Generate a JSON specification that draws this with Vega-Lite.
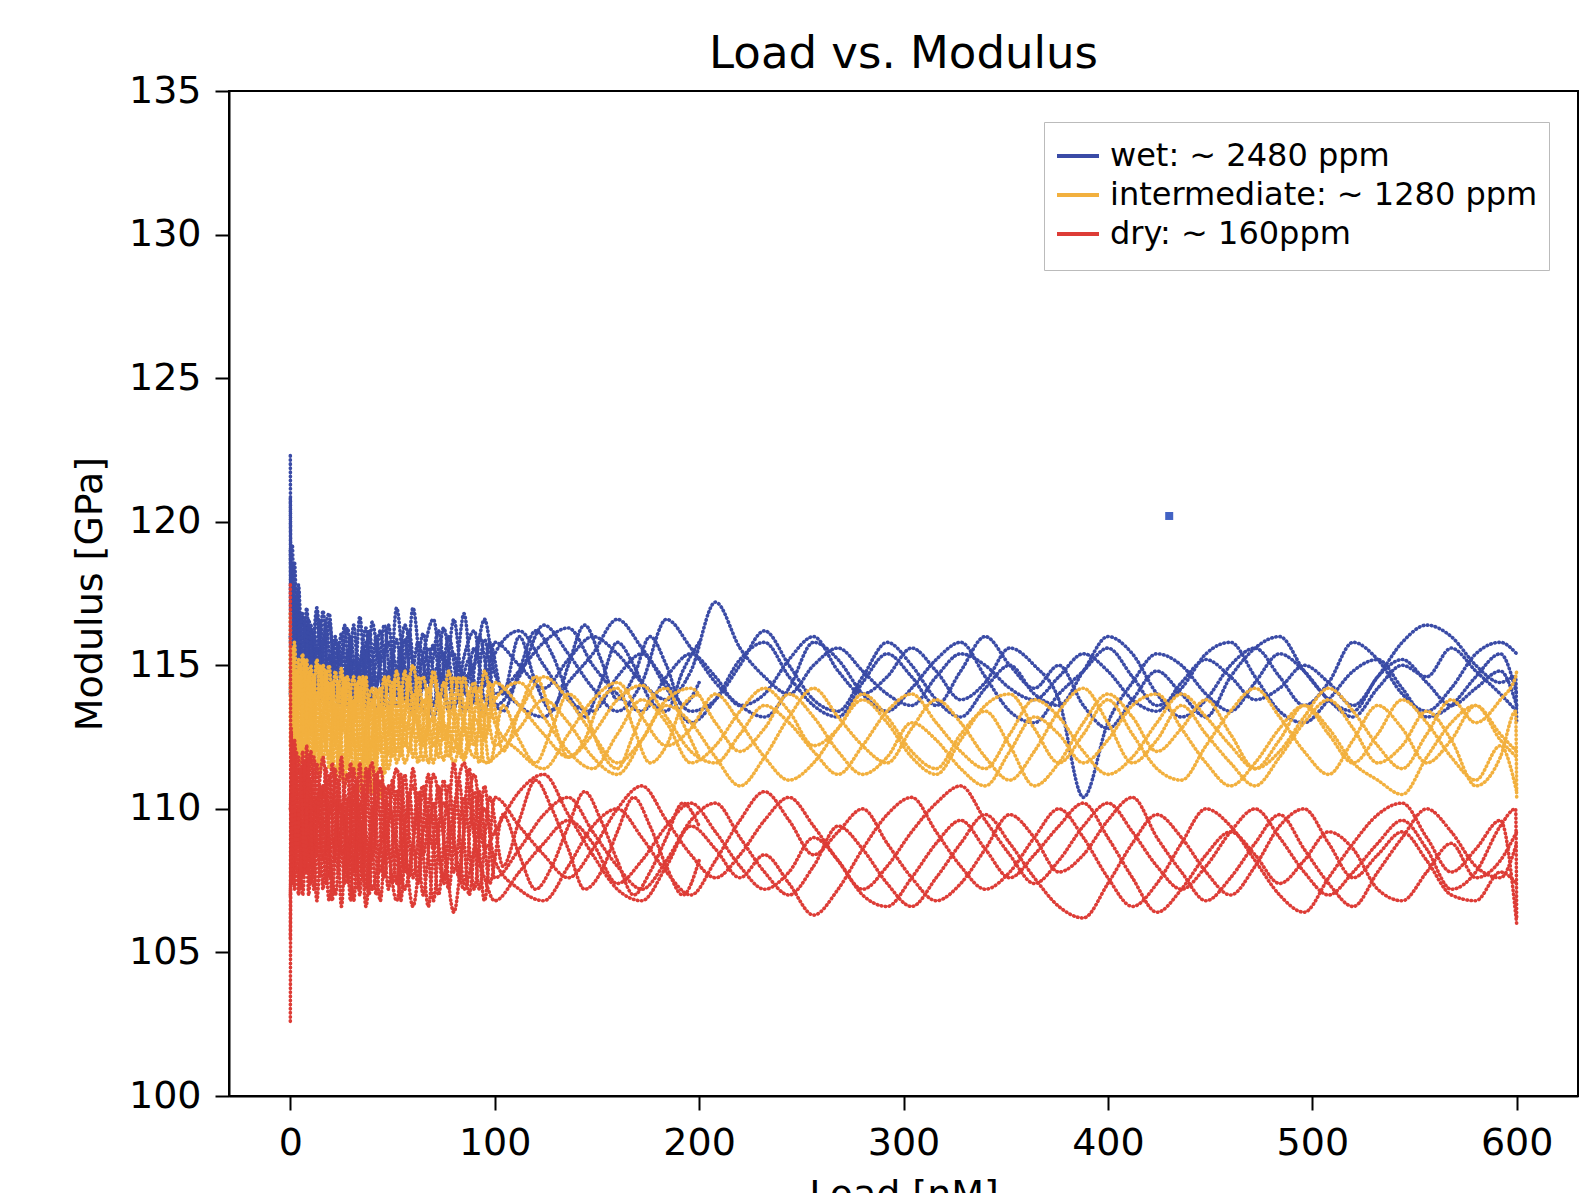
{
"$schema":"https://vega.github.io/schema/vega-lite/v6.json",
"autosize":{"type":"none"},
"width":1349,"height":1005,
"padding":{"left":229,"top":91,"right":4,"bottom":97},
"background":"white",
"config":{"view":{"stroke":"black","strokeWidth":2},"font":"DejaVu Sans"},
"title":{"text":"Load vs. Modulus","fontSize":45,"font":"DejaVu Sans","fontWeight":"normal","color":"black","anchor":"middle","frame":"group","baseline":"alphabetic","offset":22,"dy":63},
"layer":[
{"data":{"values":[
{"s":"w1","x":0,"y":122.3},{"s":"w1","x":0.4,"y":116.5},{"s":"w1","x":1,"y":119.2},{"s":"w1","x":2,"y":115.6},{"s":"w1","x":4,"y":117.8},{"s":"w1","x":6,"y":114.6},{"s":"w1","x":8,"y":117.0},{"s":"w1","x":10,"y":114.4},{"s":"w1","x":13,"y":116.8},{"s":"w1","x":16,"y":114.2},{"s":"w1","x":19,"y":116.5},{"s":"w1","x":22,"y":114.6},{"s":"w1","x":25,"y":116.1},{"s":"w1","x":28,"y":114.0},{"s":"w1","x":31,"y":116.4},{"s":"w1","x":34,"y":113.9},{"s":"w1","x":37,"y":115.8},{"s":"w1","x":40,"y":114.3},{"s":"w1","x":44,"y":116.2},{"s":"w1","x":48,"y":114.1},{"s":"w1","x":52,"y":115.9},{"s":"w1","x":56,"y":113.8},{"s":"w1","x":60,"y":117.0},{"s":"w1","x":65,"y":114.2},{"s":"w1","x":70,"y":115.7},{"s":"w1","x":75,"y":113.9},{"s":"w1","x":80,"y":116.6},{"s":"w1","x":85,"y":114.0},{"s":"w1","x":90,"y":115.6},{"s":"w1","x":95,"y":114.3},
{"s":"w1","x":100,"y":115.8},{"s":"w1","x":112,"y":115.0},{"s":"w1","x":124,"y":114.2},{"s":"w1","x":136,"y":115.2},{"s":"w1","x":148,"y":116.0},{"s":"w1","x":160,"y":115.4},{"s":"w1","x":172,"y":114.4},{"s":"w1","x":184,"y":113.8},{"s":"w1","x":196,"y":114.8},{"s":"w1","x":208,"y":117.2},{"s":"w1","x":220,"y":115.6},{"s":"w1","x":232,"y":114.6},{"s":"w1","x":244,"y":114.0},{"s":"w1","x":256,"y":115.0},{"s":"w1","x":268,"y":115.6},{"s":"w1","x":280,"y":114.8},{"s":"w1","x":292,"y":114.0},{"s":"w1","x":304,"y":113.6},{"s":"w1","x":316,"y":114.6},{"s":"w1","x":328,"y":115.4},{"s":"w1","x":340,"y":115.0},{"s":"w1","x":352,"y":114.2},{"s":"w1","x":364,"y":113.8},{"s":"w1","x":376,"y":114.6},{"s":"w1","x":388,"y":115.4},{"s":"w1","x":400,"y":114.8},{"s":"w1","x":412,"y":113.8},{"s":"w1","x":424,"y":113.4},{"s":"w1","x":436,"y":114.4},{"s":"w1","x":448,"y":115.2},{"s":"w1","x":460,"y":114.6},{"s":"w1","x":472,"y":113.8},{"s":"w1","x":484,"y":114.2},{"s":"w1","x":496,"y":115.0},{"s":"w1","x":508,"y":114.4},{"s":"w1","x":520,"y":113.6},{"s":"w1","x":532,"y":114.6},{"s":"w1","x":544,"y":115.8},{"s":"w1","x":556,"y":116.4},{"s":"w1","x":568,"y":116.0},{"s":"w1","x":580,"y":115.0},{"s":"w1","x":592,"y":114.4},{"s":"w1","x":599.5,"y":114.6},{"s":"w1","x":600,"y":113.0},
{"s":"w2","x":0,"y":120.8},{"s":"w2","x":0.4,"y":114.8},{"s":"w2","x":1,"y":117.0},{"s":"w2","x":2,"y":118.6},{"s":"w2","x":4,"y":114.6},{"s":"w2","x":6,"y":116.8},{"s":"w2","x":8,"y":114.2},{"s":"w2","x":10,"y":116.4},{"s":"w2","x":13,"y":113.9},{"s":"w2","x":16,"y":116.9},{"s":"w2","x":19,"y":114.0},{"s":"w2","x":22,"y":116.0},{"s":"w2","x":25,"y":113.8},{"s":"w2","x":28,"y":115.5},{"s":"w2","x":31,"y":113.7},{"s":"w2","x":34,"y":116.7},{"s":"w2","x":37,"y":114.1},{"s":"w2","x":40,"y":115.2},{"s":"w2","x":44,"y":113.6},{"s":"w2","x":48,"y":116.4},{"s":"w2","x":52,"y":113.9},{"s":"w2","x":56,"y":115.9},{"s":"w2","x":60,"y":114.0},{"s":"w2","x":65,"y":116.1},{"s":"w2","x":70,"y":113.6},{"s":"w2","x":75,"y":116.3},{"s":"w2","x":80,"y":114.4},{"s":"w2","x":85,"y":116.8},{"s":"w2","x":90,"y":113.7},{"s":"w2","x":95,"y":115.9},
{"s":"w2","x":100,"y":114.0},{"s":"w2","x":112,"y":114.8},{"s":"w2","x":124,"y":115.8},{"s":"w2","x":136,"y":116.3},{"s":"w2","x":148,"y":115.0},{"s":"w2","x":160,"y":114.0},{"s":"w2","x":172,"y":113.4},{"s":"w2","x":184,"y":114.6},{"s":"w2","x":196,"y":115.4},{"s":"w2","x":208,"y":114.6},{"s":"w2","x":220,"y":113.6},{"s":"w2","x":232,"y":114.0},{"s":"w2","x":244,"y":115.2},{"s":"w2","x":256,"y":116.0},{"s":"w2","x":268,"y":114.8},{"s":"w2","x":280,"y":114.0},{"s":"w2","x":292,"y":114.6},{"s":"w2","x":304,"y":115.6},{"s":"w2","x":316,"y":114.8},{"s":"w2","x":328,"y":113.8},{"s":"w2","x":340,"y":114.4},{"s":"w2","x":352,"y":115.6},{"s":"w2","x":364,"y":115.0},{"s":"w2","x":376,"y":113.8},{"s":"w2","x":388,"y":110.4},{"s":"w2","x":400,"y":113.0},{"s":"w2","x":412,"y":114.4},{"s":"w2","x":424,"y":115.4},{"s":"w2","x":436,"y":115.0},{"s":"w2","x":448,"y":114.0},{"s":"w2","x":460,"y":113.4},{"s":"w2","x":472,"y":114.4},{"s":"w2","x":484,"y":115.4},{"s":"w2","x":496,"y":114.8},{"s":"w2","x":508,"y":113.8},{"s":"w2","x":520,"y":113.4},{"s":"w2","x":532,"y":114.6},{"s":"w2","x":544,"y":115.2},{"s":"w2","x":556,"y":114.4},{"s":"w2","x":568,"y":113.6},{"s":"w2","x":580,"y":114.2},{"s":"w2","x":592,"y":114.8},{"s":"w2","x":600,"y":113.6},
{"s":"w3","x":0,"y":119.0},{"s":"w3","x":0.4,"y":113.4},{"s":"w3","x":1,"y":115.0},{"s":"w3","x":2,"y":116.4},{"s":"w3","x":4,"y":117.6},{"s":"w3","x":6,"y":114.0},{"s":"w3","x":8,"y":116.0},{"s":"w3","x":10,"y":113.8},{"s":"w3","x":13,"y":115.6},{"s":"w3","x":16,"y":114.4},{"s":"w3","x":19,"y":113.8},{"s":"w3","x":22,"y":115.8},{"s":"w3","x":25,"y":114.8},{"s":"w3","x":28,"y":113.6},{"s":"w3","x":31,"y":115.2},{"s":"w3","x":34,"y":114.6},{"s":"w3","x":37,"y":113.5},{"s":"w3","x":40,"y":116.5},{"s":"w3","x":44,"y":114.6},{"s":"w3","x":48,"y":113.5},{"s":"w3","x":52,"y":117.0},{"s":"w3","x":56,"y":114.4},{"s":"w3","x":60,"y":113.6},{"s":"w3","x":65,"y":115.4},{"s":"w3","x":70,"y":116.6},{"s":"w3","x":75,"y":114.0},{"s":"w3","x":80,"y":113.5},{"s":"w3","x":85,"y":115.3},{"s":"w3","x":90,"y":116.2},{"s":"w3","x":95,"y":113.8},
{"s":"w3","x":100,"y":113.6},{"s":"w3","x":112,"y":114.6},{"s":"w3","x":124,"y":116.4},{"s":"w3","x":136,"y":115.4},{"s":"w3","x":148,"y":114.2},{"s":"w3","x":160,"y":113.4},{"s":"w3","x":172,"y":114.4},{"s":"w3","x":184,"y":116.6},{"s":"w3","x":196,"y":115.6},{"s":"w3","x":208,"y":114.4},{"s":"w3","x":220,"y":113.6},{"s":"w3","x":232,"y":113.2},{"s":"w3","x":244,"y":114.2},{"s":"w3","x":256,"y":115.8},{"s":"w3","x":268,"y":115.2},{"s":"w3","x":280,"y":114.0},{"s":"w3","x":292,"y":113.4},{"s":"w3","x":304,"y":114.2},{"s":"w3","x":316,"y":115.2},{"s":"w3","x":328,"y":115.8},{"s":"w3","x":340,"y":114.6},{"s":"w3","x":352,"y":113.4},{"s":"w3","x":364,"y":113.0},{"s":"w3","x":376,"y":114.0},{"s":"w3","x":388,"y":114.8},{"s":"w3","x":400,"y":115.6},{"s":"w3","x":412,"y":114.6},{"s":"w3","x":424,"y":113.6},{"s":"w3","x":436,"y":114.2},{"s":"w3","x":448,"y":115.4},{"s":"w3","x":460,"y":115.8},{"s":"w3","x":472,"y":114.6},{"s":"w3","x":484,"y":113.4},{"s":"w3","x":496,"y":113.0},{"s":"w3","x":508,"y":113.8},{"s":"w3","x":520,"y":114.8},{"s":"w3","x":532,"y":115.2},{"s":"w3","x":544,"y":114.2},{"s":"w3","x":556,"y":113.2},{"s":"w3","x":568,"y":113.6},{"s":"w3","x":580,"y":114.6},{"s":"w3","x":592,"y":115.4},{"s":"w3","x":600,"y":114.0},
{"s":"w4","x":0,"y":116.0},{"s":"w4","x":1,"y":114.3},{"s":"w4","x":2,"y":116.8},{"s":"w4","x":4,"y":115.0},{"s":"w4","x":6,"y":113.9},{"s":"w4","x":8,"y":115.6},{"s":"w4","x":10,"y":114.8},{"s":"w4","x":13,"y":117.0},{"s":"w4","x":16,"y":113.9},{"s":"w4","x":19,"y":115.3},{"s":"w4","x":22,"y":113.8},{"s":"w4","x":25,"y":115.0},{"s":"w4","x":28,"y":116.3},{"s":"w4","x":31,"y":114.0},{"s":"w4","x":34,"y":115.0},{"s":"w4","x":37,"y":116.3},{"s":"w4","x":40,"y":113.6},{"s":"w4","x":44,"y":115.0},{"s":"w4","x":48,"y":115.8},{"s":"w4","x":52,"y":114.3},{"s":"w4","x":56,"y":116.4},{"s":"w4","x":60,"y":115.0},{"s":"w4","x":65,"y":113.5},{"s":"w4","x":70,"y":114.6},{"s":"w4","x":75,"y":115.4},{"s":"w4","x":80,"y":113.6},{"s":"w4","x":85,"y":114.5},{"s":"w4","x":90,"y":115.0},{"s":"w4","x":95,"y":116.6},
{"s":"w4","x":100,"y":114.7},{"s":"w4","x":112,"y":113.6},{"s":"w4","x":124,"y":113.2},{"s":"w4","x":136,"y":114.4},{"s":"w4","x":148,"y":115.4},{"s":"w4","x":160,"y":116.6},{"s":"w4","x":172,"y":115.6},{"s":"w4","x":184,"y":114.4},{"s":"w4","x":196,"y":113.4},{"s":"w4","x":208,"y":113.8},{"s":"w4","x":220,"y":115.0},{"s":"w4","x":232,"y":116.2},{"s":"w4","x":244,"y":115.0},{"s":"w4","x":256,"y":113.8},{"s":"w4","x":268,"y":113.4},{"s":"w4","x":280,"y":114.6},{"s":"w4","x":292,"y":115.8},{"s":"w4","x":304,"y":115.0},{"s":"w4","x":316,"y":113.8},{"s":"w4","x":328,"y":113.2},{"s":"w4","x":340,"y":114.2},{"s":"w4","x":352,"y":115.0},{"s":"w4","x":364,"y":114.0},{"s":"w4","x":376,"y":113.6},{"s":"w4","x":388,"y":114.8},{"s":"w4","x":400,"y":116.0},{"s":"w4","x":412,"y":115.4},{"s":"w4","x":424,"y":114.0},{"s":"w4","x":436,"y":113.2},{"s":"w4","x":448,"y":113.8},{"s":"w4","x":460,"y":115.0},{"s":"w4","x":472,"y":115.6},{"s":"w4","x":484,"y":114.6},{"s":"w4","x":496,"y":113.6},{"s":"w4","x":508,"y":114.4},{"s":"w4","x":520,"y":115.8},{"s":"w4","x":532,"y":115.2},{"s":"w4","x":544,"y":114.0},{"s":"w4","x":556,"y":113.4},{"s":"w4","x":568,"y":114.2},{"s":"w4","x":580,"y":115.4},{"s":"w4","x":592,"y":115.8},{"s":"w4","x":600,"y":115.4},
{"s":"w5","x":0,"y":114.0},{"s":"w5","x":1,"y":116.2},{"s":"w5","x":2,"y":114.1},{"s":"w5","x":4,"y":116.0},{"s":"w5","x":6,"y":115.2},{"s":"w5","x":8,"y":113.8},{"s":"w5","x":10,"y":115.4},{"s":"w5","x":13,"y":114.2},{"s":"w5","x":16,"y":115.8},{"s":"w5","x":19,"y":116.8},{"s":"w5","x":22,"y":114.0},{"s":"w5","x":25,"y":113.6},{"s":"w5","x":28,"y":115.0},{"s":"w5","x":31,"y":113.4},{"s":"w5","x":34,"y":114.4},{"s":"w5","x":37,"y":115.5},{"s":"w5","x":40,"y":113.9},{"s":"w5","x":44,"y":113.4},{"s":"w5","x":48,"y":114.8},{"s":"w5","x":52,"y":113.6},{"s":"w5","x":56,"y":114.9},{"s":"w5","x":60,"y":113.3},{"s":"w5","x":65,"y":114.4},{"s":"w5","x":70,"y":113.2},{"s":"w5","x":75,"y":114.8},{"s":"w5","x":80,"y":115.4},{"s":"w5","x":85,"y":113.4},{"s":"w5","x":90,"y":114.0},{"s":"w5","x":95,"y":113.3},
{"s":"w5","x":100,"y":115.4},{"s":"w5","x":112,"y":116.2},{"s":"w5","x":124,"y":115.0},{"s":"w5","x":136,"y":113.8},{"s":"w5","x":148,"y":113.4},{"s":"w5","x":160,"y":114.6},{"s":"w5","x":172,"y":115.4},{"s":"w5","x":184,"y":114.2},{"s":"w5","x":196,"y":113.0},{"s":"w5","x":208,"y":113.8},{"s":"w5","x":220,"y":115.2},{"s":"w5","x":232,"y":115.8},{"s":"w5","x":244,"y":114.6},{"s":"w5","x":256,"y":113.6},{"s":"w5","x":268,"y":113.2},{"s":"w5","x":280,"y":114.4},{"s":"w5","x":292,"y":115.4},{"s":"w5","x":304,"y":114.6},{"s":"w5","x":316,"y":113.6},{"s":"w5","x":328,"y":114.8},{"s":"w5","x":340,"y":116.0},{"s":"w5","x":352,"y":115.0},{"s":"w5","x":364,"y":114.2},{"s":"w5","x":376,"y":115.0},{"s":"w5","x":388,"y":113.6},{"s":"w5","x":400,"y":112.8},{"s":"w5","x":412,"y":113.8},{"s":"w5","x":424,"y":114.8},{"s":"w5","x":436,"y":114.0},{"s":"w5","x":448,"y":113.2},{"s":"w5","x":460,"y":114.6},{"s":"w5","x":472,"y":115.6},{"s":"w5","x":484,"y":116.0},{"s":"w5","x":496,"y":114.8},{"s":"w5","x":508,"y":113.8},{"s":"w5","x":520,"y":113.2},{"s":"w5","x":532,"y":114.2},{"s":"w5","x":544,"y":115.0},{"s":"w5","x":556,"y":114.6},{"s":"w5","x":568,"y":115.6},{"s":"w5","x":580,"y":114.8},{"s":"w5","x":592,"y":114.0},{"s":"w5","x":600,"y":113.4},
{"s":"w6","x":0.5,"y":118.0},{"s":"w6","x":1.5,"y":114.6},{"s":"w6","x":3,"y":117.4},{"s":"w6","x":5,"y":114.2},{"s":"w6","x":7,"y":116.6},{"s":"w6","x":9,"y":114.0},{"s":"w6","x":11.5,"y":116.2},{"s":"w6","x":14.5,"y":113.8},{"s":"w6","x":17.5,"y":116.4},{"s":"w6","x":20.5,"y":114.4},{"s":"w6","x":23.5,"y":115.8},{"s":"w6","x":26.5,"y":113.6},{"s":"w6","x":29.5,"y":116.0},{"s":"w6","x":32.5,"y":114.2},{"s":"w6","x":35.5,"y":115.6},{"s":"w6","x":38.5,"y":113.6},{"s":"w6","x":42,"y":116.0},{"s":"w6","x":46,"y":113.8},{"s":"w6","x":50,"y":115.4},{"s":"w6","x":54,"y":114.0},{"s":"w6","x":58,"y":116.2},{"s":"w6","x":62.5,"y":113.6},{"s":"w6","x":67.5,"y":115.6},{"s":"w6","x":72.5,"y":113.8},{"s":"w6","x":77.5,"y":116.0},{"s":"w6","x":82.5,"y":114.2},{"s":"w6","x":87.5,"y":115.2},{"s":"w6","x":92.5,"y":113.6},{"s":"w6","x":97.5,"y":115.8},{"s":"w6","x":104,"y":114.0},{"s":"w6","x":112,"y":116.0},{"s":"w6","x":120,"y":114.4},{"s":"w6","x":128,"y":113.4},{"s":"w6","x":136,"y":115.0},{"s":"w6","x":144,"y":116.4},{"s":"w6","x":152,"y":115.2},{"s":"w6","x":160,"y":113.8},{"s":"w6","x":168,"y":114.6},{"s":"w6","x":176,"y":116.0},{"s":"w6","x":184,"y":115.0},{"s":"w6","x":192,"y":113.6},{"s":"w6","x":200,"y":114.4},
{"s":"w7","x":0.5,"y":115.0},{"s":"w7","x":1.5,"y":118.0},{"s":"w7","x":3,"y":114.4},{"s":"w7","x":5,"y":116.8},{"s":"w7","x":7,"y":113.9},{"s":"w7","x":9,"y":116.6},{"s":"w7","x":11.5,"y":114.4},{"s":"w7","x":14.5,"y":116.6},{"s":"w7","x":17.5,"y":114.0},{"s":"w7","x":20.5,"y":115.6},{"s":"w7","x":23.5,"y":113.6},{"s":"w7","x":26.5,"y":116.4},{"s":"w7","x":29.5,"y":114.0},{"s":"w7","x":32.5,"y":115.4},{"s":"w7","x":35.5,"y":113.6},{"s":"w7","x":38.5,"y":116.2},{"s":"w7","x":42,"y":114.2},{"s":"w7","x":46,"y":116.4},{"s":"w7","x":50,"y":113.6},{"s":"w7","x":54,"y":115.6},{"s":"w7","x":58,"y":113.8},{"s":"w7","x":62.5,"y":115.8},{"s":"w7","x":67.5,"y":114.4},{"s":"w7","x":72.5,"y":116.2},{"s":"w7","x":77.5,"y":113.4},{"s":"w7","x":82.5,"y":115.0},{"s":"w7","x":87.5,"y":113.8},{"s":"w7","x":92.5,"y":116.0},{"s":"w7","x":97.5,"y":114.2},{"s":"w7","x":104,"y":113.4},{"s":"w7","x":112,"y":114.8},{"s":"w7","x":120,"y":116.2},{"s":"w7","x":128,"y":115.4},{"s":"w7","x":136,"y":114.0},{"s":"w7","x":144,"y":113.2},{"s":"w7","x":152,"y":114.4},{"s":"w7","x":160,"y":115.8},{"s":"w7","x":168,"y":115.0},{"s":"w7","x":176,"y":113.8},{"s":"w7","x":184,"y":113.4},{"s":"w7","x":192,"y":114.8},{"s":"w7","x":200,"y":115.8},
{"s":"i1","x":0,"y":116.8},{"s":"i1","x":0.4,"y":112.0},{"s":"i1","x":1,"y":115.6},{"s":"i1","x":2,"y":112.4},{"s":"i1","x":4,"y":115.2},{"s":"i1","x":6,"y":111.8},{"s":"i1","x":8,"y":114.6},{"s":"i1","x":10,"y":112.6},{"s":"i1","x":13,"y":115.2},{"s":"i1","x":16,"y":111.6},{"s":"i1","x":19,"y":114.4},{"s":"i1","x":22,"y":112.2},{"s":"i1","x":25,"y":114.9},{"s":"i1","x":28,"y":111.4},{"s":"i1","x":31,"y":113.8},{"s":"i1","x":34,"y":112.0},{"s":"i1","x":37,"y":114.6},{"s":"i1","x":40,"y":110.6},{"s":"i1","x":44,"y":113.6},{"s":"i1","x":48,"y":111.9},{"s":"i1","x":52,"y":114.5},{"s":"i1","x":56,"y":112.2},{"s":"i1","x":60,"y":114.0},{"s":"i1","x":65,"y":111.7},{"s":"i1","x":70,"y":114.6},{"s":"i1","x":75,"y":112.4},{"s":"i1","x":80,"y":113.5},{"s":"i1","x":85,"y":111.8},{"s":"i1","x":90,"y":114.2},{"s":"i1","x":95,"y":112.5},
{"s":"i1","x":100,"y":114.4},{"s":"i1","x":112,"y":113.6},{"s":"i1","x":124,"y":112.6},{"s":"i1","x":136,"y":111.8},{"s":"i1","x":148,"y":112.6},{"s":"i1","x":160,"y":113.8},{"s":"i1","x":172,"y":114.3},{"s":"i1","x":184,"y":113.2},{"s":"i1","x":196,"y":112.0},{"s":"i1","x":208,"y":111.6},{"s":"i1","x":220,"y":112.6},{"s":"i1","x":232,"y":113.6},{"s":"i1","x":244,"y":113.0},{"s":"i1","x":256,"y":112.0},{"s":"i1","x":268,"y":111.2},{"s":"i1","x":280,"y":112.2},{"s":"i1","x":292,"y":113.4},{"s":"i1","x":304,"y":114.0},{"s":"i1","x":316,"y":113.0},{"s":"i1","x":328,"y":112.0},{"s":"i1","x":340,"y":111.4},{"s":"i1","x":352,"y":112.6},{"s":"i1","x":364,"y":113.8},{"s":"i1","x":376,"y":113.2},{"s":"i1","x":388,"y":112.0},{"s":"i1","x":400,"y":111.2},{"s":"i1","x":412,"y":111.8},{"s":"i1","x":424,"y":113.0},{"s":"i1","x":436,"y":114.0},{"s":"i1","x":448,"y":113.2},{"s":"i1","x":460,"y":112.2},{"s":"i1","x":472,"y":111.4},{"s":"i1","x":484,"y":112.4},{"s":"i1","x":496,"y":113.6},{"s":"i1","x":508,"y":112.8},{"s":"i1","x":520,"y":111.6},{"s":"i1","x":532,"y":111.0},{"s":"i1","x":544,"y":110.5},{"s":"i1","x":556,"y":111.8},{"s":"i1","x":568,"y":113.0},{"s":"i1","x":580,"y":113.6},{"s":"i1","x":592,"y":112.6},{"s":"i1","x":600,"y":112.0},
{"s":"i2","x":0,"y":115.5},{"s":"i2","x":0.4,"y":111.5},{"s":"i2","x":1,"y":113.0},{"s":"i2","x":2,"y":115.8},{"s":"i2","x":4,"y":112.0},{"s":"i2","x":6,"y":114.8},{"s":"i2","x":8,"y":111.6},{"s":"i2","x":10,"y":115.0},{"s":"i2","x":13,"y":112.0},{"s":"i2","x":16,"y":114.6},{"s":"i2","x":19,"y":111.4},{"s":"i2","x":22,"y":114.8},{"s":"i2","x":25,"y":112.6},{"s":"i2","x":28,"y":114.4},{"s":"i2","x":31,"y":111.2},{"s":"i2","x":34,"y":114.2},{"s":"i2","x":37,"y":111.6},{"s":"i2","x":40,"y":113.8},{"s":"i2","x":44,"y":110.4},{"s":"i2","x":48,"y":113.6},{"s":"i2","x":52,"y":112.0},{"s":"i2","x":56,"y":114.8},{"s":"i2","x":60,"y":111.8},{"s":"i2","x":65,"y":113.8},{"s":"i2","x":70,"y":111.6},{"s":"i2","x":75,"y":114.4},{"s":"i2","x":80,"y":112.0},{"s":"i2","x":85,"y":114.6},{"s":"i2","x":90,"y":112.2},{"s":"i2","x":95,"y":113.6},
{"s":"i2","x":100,"y":112.2},{"s":"i2","x":112,"y":113.4},{"s":"i2","x":124,"y":114.6},{"s":"i2","x":136,"y":113.8},{"s":"i2","x":148,"y":112.6},{"s":"i2","x":160,"y":111.6},{"s":"i2","x":172,"y":112.4},{"s":"i2","x":184,"y":113.6},{"s":"i2","x":196,"y":113.0},{"s":"i2","x":208,"y":111.8},{"s":"i2","x":220,"y":110.8},{"s":"i2","x":232,"y":111.8},{"s":"i2","x":244,"y":113.2},{"s":"i2","x":256,"y":114.2},{"s":"i2","x":268,"y":113.2},{"s":"i2","x":280,"y":112.2},{"s":"i2","x":292,"y":111.6},{"s":"i2","x":304,"y":112.8},{"s":"i2","x":316,"y":113.8},{"s":"i2","x":328,"y":113.0},{"s":"i2","x":340,"y":111.8},{"s":"i2","x":352,"y":111.0},{"s":"i2","x":364,"y":112.0},{"s":"i2","x":376,"y":113.4},{"s":"i2","x":388,"y":114.2},{"s":"i2","x":400,"y":113.0},{"s":"i2","x":412,"y":111.6},{"s":"i2","x":424,"y":112.4},{"s":"i2","x":436,"y":113.6},{"s":"i2","x":448,"y":112.6},{"s":"i2","x":460,"y":111.6},{"s":"i2","x":472,"y":110.8},{"s":"i2","x":484,"y":111.8},{"s":"i2","x":496,"y":113.0},{"s":"i2","x":508,"y":113.8},{"s":"i2","x":520,"y":112.8},{"s":"i2","x":532,"y":111.6},{"s":"i2","x":544,"y":112.2},{"s":"i2","x":556,"y":113.4},{"s":"i2","x":568,"y":112.4},{"s":"i2","x":580,"y":110.8},{"s":"i2","x":592,"y":111.8},{"s":"i2","x":599.5,"y":113.4},{"s":"i2","x":600,"y":110.4},
{"s":"i3","x":0,"y":113.2},{"s":"i3","x":1,"y":114.8},{"s":"i3","x":2,"y":112.8},{"s":"i3","x":4,"y":113.6},{"s":"i3","x":6,"y":115.4},{"s":"i3","x":8,"y":112.6},{"s":"i3","x":10,"y":113.4},{"s":"i3","x":13,"y":111.4},{"s":"i3","x":16,"y":113.2},{"s":"i3","x":19,"y":115.0},{"s":"i3","x":22,"y":111.0},{"s":"i3","x":25,"y":113.4},{"s":"i3","x":28,"y":114.6},{"s":"i3","x":31,"y":112.6},{"s":"i3","x":34,"y":110.6},{"s":"i3","x":37,"y":113.0},{"s":"i3","x":40,"y":114.2},{"s":"i3","x":44,"y":112.0},{"s":"i3","x":48,"y":114.6},{"s":"i3","x":52,"y":111.6},{"s":"i3","x":56,"y":113.2},{"s":"i3","x":60,"y":115.0},{"s":"i3","x":65,"y":112.4},{"s":"i3","x":70,"y":113.2},{"s":"i3","x":75,"y":111.7},{"s":"i3","x":80,"y":114.6},{"s":"i3","x":85,"y":112.8},{"s":"i3","x":90,"y":111.8},{"s":"i3","x":95,"y":114.8},
{"s":"i3","x":100,"y":113.0},{"s":"i3","x":112,"y":112.0},{"s":"i3","x":124,"y":111.4},{"s":"i3","x":136,"y":112.6},{"s":"i3","x":148,"y":113.8},{"s":"i3","x":160,"y":114.4},{"s":"i3","x":172,"y":113.2},{"s":"i3","x":184,"y":112.2},{"s":"i3","x":196,"y":112.8},{"s":"i3","x":208,"y":114.0},{"s":"i3","x":220,"y":113.0},{"s":"i3","x":232,"y":111.8},{"s":"i3","x":244,"y":111.0},{"s":"i3","x":256,"y":111.6},{"s":"i3","x":268,"y":112.8},{"s":"i3","x":280,"y":113.8},{"s":"i3","x":292,"y":113.0},{"s":"i3","x":304,"y":111.8},{"s":"i3","x":316,"y":111.2},{"s":"i3","x":328,"y":112.4},{"s":"i3","x":340,"y":113.6},{"s":"i3","x":352,"y":114.0},{"s":"i3","x":364,"y":112.8},{"s":"i3","x":376,"y":111.6},{"s":"i3","x":388,"y":112.6},{"s":"i3","x":400,"y":113.8},{"s":"i3","x":412,"y":112.6},{"s":"i3","x":424,"y":111.4},{"s":"i3","x":436,"y":111.0},{"s":"i3","x":448,"y":112.2},{"s":"i3","x":460,"y":113.4},{"s":"i3","x":472,"y":114.2},{"s":"i3","x":484,"y":113.2},{"s":"i3","x":496,"y":112.0},{"s":"i3","x":508,"y":111.2},{"s":"i3","x":520,"y":112.4},{"s":"i3","x":532,"y":113.6},{"s":"i3","x":544,"y":112.8},{"s":"i3","x":556,"y":111.6},{"s":"i3","x":568,"y":112.4},{"s":"i3","x":580,"y":113.6},{"s":"i3","x":592,"y":112.4},{"s":"i3","x":600,"y":111.8},
{"s":"i4","x":0,"y":114.4},{"s":"i4","x":1,"y":112.0},{"s":"i4","x":2,"y":114.2},{"s":"i4","x":4,"y":111.6},{"s":"i4","x":6,"y":113.2},{"s":"i4","x":8,"y":115.2},{"s":"i4","x":10,"y":111.4},{"s":"i4","x":13,"y":114.0},{"s":"i4","x":16,"y":112.8},{"s":"i4","x":19,"y":111.8},{"s":"i4","x":22,"y":113.6},{"s":"i4","x":25,"y":111.0},{"s":"i4","x":28,"y":113.0},{"s":"i4","x":31,"y":114.6},{"s":"i4","x":34,"y":111.4},{"s":"i4","x":37,"y":112.6},{"s":"i4","x":40,"y":111.2},{"s":"i4","x":44,"y":114.2},{"s":"i4","x":48,"y":111.4},{"s":"i4","x":52,"y":113.4},{"s":"i4","x":56,"y":111.6},{"s":"i4","x":60,"y":112.8},{"s":"i4","x":65,"y":114.6},{"s":"i4","x":70,"y":112.2},{"s":"i4","x":75,"y":113.0},{"s":"i4","x":80,"y":111.6},{"s":"i4","x":85,"y":113.2},{"s":"i4","x":90,"y":114.4},{"s":"i4","x":95,"y":111.6},
{"s":"i4","x":100,"y":111.8},{"s":"i4","x":112,"y":112.8},{"s":"i4","x":124,"y":113.8},{"s":"i4","x":136,"y":113.0},{"s":"i4","x":148,"y":111.8},{"s":"i4","x":160,"y":111.2},{"s":"i4","x":172,"y":112.4},{"s":"i4","x":184,"y":113.8},{"s":"i4","x":196,"y":114.2},{"s":"i4","x":208,"y":113.0},{"s":"i4","x":220,"y":112.0},{"s":"i4","x":232,"y":112.8},{"s":"i4","x":244,"y":114.0},{"s":"i4","x":256,"y":113.2},{"s":"i4","x":268,"y":112.0},{"s":"i4","x":280,"y":111.2},{"s":"i4","x":292,"y":111.8},{"s":"i4","x":304,"y":113.0},{"s":"i4","x":316,"y":112.4},{"s":"i4","x":328,"y":111.4},{"s":"i4","x":340,"y":110.8},{"s":"i4","x":352,"y":112.0},{"s":"i4","x":364,"y":113.2},{"s":"i4","x":376,"y":112.6},{"s":"i4","x":388,"y":111.6},{"s":"i4","x":400,"y":112.4},{"s":"i4","x":412,"y":113.6},{"s":"i4","x":424,"y":114.0},{"s":"i4","x":436,"y":112.8},{"s":"i4","x":448,"y":111.6},{"s":"i4","x":460,"y":110.8},{"s":"i4","x":472,"y":111.6},{"s":"i4","x":484,"y":112.8},{"s":"i4","x":496,"y":113.6},{"s":"i4","x":508,"y":112.6},{"s":"i4","x":520,"y":111.6},{"s":"i4","x":532,"y":112.6},{"s":"i4","x":544,"y":113.8},{"s":"i4","x":556,"y":113.0},{"s":"i4","x":568,"y":111.8},{"s":"i4","x":580,"y":111.0},{"s":"i4","x":592,"y":112.2},{"s":"i4","x":600,"y":110.6},
{"s":"i5","x":0,"y":112.2},{"s":"i5","x":1,"y":115.2},{"s":"i5","x":2,"y":113.6},{"s":"i5","x":4,"y":114.6},{"s":"i5","x":6,"y":112.6},{"s":"i5","x":8,"y":113.8},{"s":"i5","x":10,"y":114.4},{"s":"i5","x":13,"y":112.6},{"s":"i5","x":16,"y":115.0},{"s":"i5","x":19,"y":113.0},{"s":"i5","x":22,"y":112.4},{"s":"i5","x":25,"y":114.2},{"s":"i5","x":28,"y":112.0},{"s":"i5","x":31,"y":113.0},{"s":"i5","x":34,"y":114.6},{"s":"i5","x":37,"y":110.8},{"s":"i5","x":40,"y":112.6},{"s":"i5","x":44,"y":113.6},{"s":"i5","x":48,"y":112.6},{"s":"i5","x":52,"y":114.8},{"s":"i5","x":56,"y":112.8},{"s":"i5","x":60,"y":113.4},{"s":"i5","x":65,"y":112.2},{"s":"i5","x":70,"y":114.8},{"s":"i5","x":75,"y":112.8},{"s":"i5","x":80,"y":112.4},{"s":"i5","x":85,"y":111.7},{"s":"i5","x":90,"y":113.2},{"s":"i5","x":95,"y":112.4},
{"s":"i5","x":100,"y":113.8},{"s":"i5","x":112,"y":114.4},{"s":"i5","x":124,"y":113.2},{"s":"i5","x":136,"y":112.0},{"s":"i5","x":148,"y":111.4},{"s":"i5","x":160,"y":112.6},{"s":"i5","x":172,"y":113.8},{"s":"i5","x":184,"y":113.0},{"s":"i5","x":196,"y":111.6},{"s":"i5","x":208,"y":112.2},{"s":"i5","x":220,"y":113.4},{"s":"i5","x":232,"y":114.2},{"s":"i5","x":244,"y":113.4},{"s":"i5","x":256,"y":112.2},{"s":"i5","x":268,"y":112.8},{"s":"i5","x":280,"y":114.0},{"s":"i5","x":292,"y":113.2},{"s":"i5","x":304,"y":112.0},{"s":"i5","x":316,"y":111.4},{"s":"i5","x":328,"y":112.6},{"s":"i5","x":340,"y":113.4},{"s":"i5","x":352,"y":112.2},{"s":"i5","x":364,"y":110.8},{"s":"i5","x":376,"y":111.6},{"s":"i5","x":388,"y":113.0},{"s":"i5","x":400,"y":114.0},{"s":"i5","x":412,"y":113.2},{"s":"i5","x":424,"y":112.0},{"s":"i5","x":436,"y":112.8},{"s":"i5","x":448,"y":113.8},{"s":"i5","x":460,"y":112.6},{"s":"i5","x":472,"y":111.4},{"s":"i5","x":484,"y":112.0},{"s":"i5","x":496,"y":113.2},{"s":"i5","x":508,"y":114.2},{"s":"i5","x":520,"y":113.4},{"s":"i5","x":532,"y":112.2},{"s":"i5","x":544,"y":111.4},{"s":"i5","x":556,"y":112.6},{"s":"i5","x":568,"y":113.8},{"s":"i5","x":580,"y":113.0},{"s":"i5","x":592,"y":113.8},{"s":"i5","x":599.5,"y":114.6},{"s":"i5","x":600,"y":114.8},
{"s":"i6","x":0.5,"y":115.6},{"s":"i6","x":1.5,"y":111.8},{"s":"i6","x":3,"y":114.8},{"s":"i6","x":5,"y":111.6},{"s":"i6","x":7,"y":115.2},{"s":"i6","x":9,"y":112.0},{"s":"i6","x":11.5,"y":114.6},{"s":"i6","x":14.5,"y":111.2},{"s":"i6","x":17.5,"y":114.8},{"s":"i6","x":20.5,"y":111.6},{"s":"i6","x":23.5,"y":114.4},{"s":"i6","x":26.5,"y":110.8},{"s":"i6","x":29.5,"y":114.0},{"s":"i6","x":32.5,"y":111.4},{"s":"i6","x":35.5,"y":114.6},{"s":"i6","x":38.5,"y":110.6},{"s":"i6","x":42,"y":114.2},{"s":"i6","x":46,"y":111.2},{"s":"i6","x":50,"y":114.4},{"s":"i6","x":54,"y":111.8},{"s":"i6","x":58,"y":114.6},{"s":"i6","x":62.5,"y":111.6},{"s":"i6","x":67.5,"y":114.2},{"s":"i6","x":72.5,"y":111.8},{"s":"i6","x":77.5,"y":114.8},{"s":"i6","x":82.5,"y":112.0},{"s":"i6","x":87.5,"y":114.0},{"s":"i6","x":92.5,"y":111.6},{"s":"i6","x":97.5,"y":114.4},{"s":"i6","x":104,"y":112.0},{"s":"i6","x":112,"y":113.4},{"s":"i6","x":120,"y":114.6},{"s":"i6","x":128,"y":113.2},{"s":"i6","x":136,"y":111.8},{"s":"i6","x":144,"y":112.4},{"s":"i6","x":152,"y":113.8},{"s":"i6","x":160,"y":114.2},{"s":"i6","x":168,"y":112.8},{"s":"i6","x":176,"y":111.6},{"s":"i6","x":184,"y":112.2},{"s":"i6","x":192,"y":113.6},{"s":"i6","x":200,"y":114.0},
{"s":"i7","x":0.5,"y":112.4},{"s":"i7","x":1.5,"y":115.4},{"s":"i7","x":3,"y":112.0},{"s":"i7","x":5,"y":115.0},{"s":"i7","x":7,"y":111.8},{"s":"i7","x":9,"y":114.8},{"s":"i7","x":11.5,"y":111.6},{"s":"i7","x":14.5,"y":115.0},{"s":"i7","x":17.5,"y":112.2},{"s":"i7","x":20.5,"y":114.4},{"s":"i7","x":23.5,"y":111.4},{"s":"i7","x":26.5,"y":114.6},{"s":"i7","x":29.5,"y":111.8},{"s":"i7","x":32.5,"y":114.4},{"s":"i7","x":35.5,"y":111.0},{"s":"i7","x":38.5,"y":113.8},{"s":"i7","x":42,"y":111.6},{"s":"i7","x":46,"y":114.6},{"s":"i7","x":50,"y":111.8},{"s":"i7","x":54,"y":114.2},{"s":"i7","x":58,"y":112.0},{"s":"i7","x":62.5,"y":114.6},{"s":"i7","x":67.5,"y":111.6},{"s":"i7","x":72.5,"y":114.0},{"s":"i7","x":77.5,"y":111.8},{"s":"i7","x":82.5,"y":114.6},{"s":"i7","x":87.5,"y":112.2},{"s":"i7","x":92.5,"y":114.2},{"s":"i7","x":97.5,"y":111.6},{"s":"i7","x":104,"y":113.6},{"s":"i7","x":112,"y":112.4},{"s":"i7","x":120,"y":111.6},{"s":"i7","x":128,"y":112.8},{"s":"i7","x":136,"y":114.0},{"s":"i7","x":144,"y":113.4},{"s":"i7","x":152,"y":112.0},{"s":"i7","x":160,"y":111.4},{"s":"i7","x":168,"y":112.6},{"s":"i7","x":176,"y":113.8},{"s":"i7","x":184,"y":114.2},{"s":"i7","x":192,"y":113.0},{"s":"i7","x":200,"y":111.8},
{"s":"d1","x":0,"y":117.8},{"s":"d1","x":0.4,"y":108.0},{"s":"d1","x":1,"y":112.4},{"s":"d1","x":2,"y":107.2},{"s":"d1","x":4,"y":111.8},{"s":"d1","x":6,"y":107.6},{"s":"d1","x":8,"y":112.2},{"s":"d1","x":10,"y":108.0},{"s":"d1","x":13,"y":111.6},{"s":"d1","x":16,"y":107.2},{"s":"d1","x":19,"y":111.2},{"s":"d1","x":22,"y":108.2},{"s":"d1","x":25,"y":111.8},{"s":"d1","x":28,"y":107.4},{"s":"d1","x":31,"y":110.8},{"s":"d1","x":34,"y":107.0},{"s":"d1","x":37,"y":111.4},{"s":"d1","x":40,"y":108.2},{"s":"d1","x":44,"y":111.0},{"s":"d1","x":48,"y":107.2},{"s":"d1","x":52,"y":110.6},{"s":"d1","x":56,"y":107.8},{"s":"d1","x":60,"y":111.4},{"s":"d1","x":65,"y":107.0},{"s":"d1","x":70,"y":110.2},{"s":"d1","x":75,"y":107.6},{"s":"d1","x":80,"y":111.6},{"s":"d1","x":85,"y":107.4},{"s":"d1","x":90,"y":110.6},{"s":"d1","x":95,"y":106.8},
{"s":"d1","x":100,"y":110.4},{"s":"d1","x":112,"y":109.4},{"s":"d1","x":124,"y":108.4},{"s":"d1","x":136,"y":107.6},{"s":"d1","x":148,"y":108.6},{"s":"d1","x":160,"y":110.0},{"s":"d1","x":172,"y":110.8},{"s":"d1","x":184,"y":109.6},{"s":"d1","x":196,"y":108.4},{"s":"d1","x":208,"y":107.6},{"s":"d1","x":220,"y":108.4},{"s":"d1","x":232,"y":109.6},{"s":"d1","x":244,"y":110.4},{"s":"d1","x":256,"y":109.4},{"s":"d1","x":268,"y":108.2},{"s":"d1","x":280,"y":107.2},{"s":"d1","x":292,"y":108.0},{"s":"d1","x":304,"y":109.2},{"s":"d1","x":316,"y":110.2},{"s":"d1","x":328,"y":110.8},{"s":"d1","x":340,"y":109.6},{"s":"d1","x":352,"y":108.4},{"s":"d1","x":364,"y":107.4},{"s":"d1","x":376,"y":108.2},{"s":"d1","x":388,"y":109.4},{"s":"d1","x":400,"y":110.2},{"s":"d1","x":412,"y":109.2},{"s":"d1","x":424,"y":108.0},{"s":"d1","x":436,"y":107.2},{"s":"d1","x":448,"y":108.0},{"s":"d1","x":460,"y":109.2},{"s":"d1","x":472,"y":110.0},{"s":"d1","x":484,"y":109.0},{"s":"d1","x":496,"y":107.8},{"s":"d1","x":508,"y":107.0},{"s":"d1","x":520,"y":107.8},{"s":"d1","x":532,"y":108.8},{"s":"d1","x":544,"y":109.6},{"s":"d1","x":556,"y":108.6},{"s":"d1","x":568,"y":107.2},{"s":"d1","x":580,"y":107.8},{"s":"d1","x":592,"y":109.4},{"s":"d1","x":599.5,"y":110.0},{"s":"d1","x":600,"y":106.2},
{"s":"d2","x":0,"y":102.6},{"s":"d2","x":0.4,"y":110.5},{"s":"d2","x":1,"y":107.4},{"s":"d2","x":2,"y":111.6},{"s":"d2","x":4,"y":107.0},{"s":"d2","x":6,"y":112.0},{"s":"d2","x":8,"y":107.8},{"s":"d2","x":10,"y":111.0},{"s":"d2","x":13,"y":106.8},{"s":"d2","x":16,"y":110.8},{"s":"d2","x":19,"y":107.6},{"s":"d2","x":22,"y":111.4},{"s":"d2","x":25,"y":106.6},{"s":"d2","x":28,"y":110.4},{"s":"d2","x":31,"y":107.8},{"s":"d2","x":34,"y":111.6},{"s":"d2","x":37,"y":107.2},{"s":"d2","x":40,"y":110.0},{"s":"d2","x":44,"y":106.8},{"s":"d2","x":48,"y":110.8},{"s":"d2","x":52,"y":107.4},{"s":"d2","x":56,"y":111.2},{"s":"d2","x":60,"y":107.6},{"s":"d2","x":65,"y":110.6},{"s":"d2","x":70,"y":106.8},{"s":"d2","x":75,"y":111.0},{"s":"d2","x":80,"y":107.8},{"s":"d2","x":85,"y":110.4},{"s":"d2","x":90,"y":107.2},{"s":"d2","x":95,"y":110.8},
{"s":"d2","x":100,"y":107.6},{"s":"d2","x":112,"y":108.6},{"s":"d2","x":124,"y":109.8},{"s":"d2","x":136,"y":110.4},{"s":"d2","x":148,"y":109.2},{"s":"d2","x":160,"y":108.0},{"s":"d2","x":172,"y":107.2},{"s":"d2","x":184,"y":108.2},{"s":"d2","x":196,"y":109.6},{"s":"d2","x":208,"y":110.2},{"s":"d2","x":220,"y":109.0},{"s":"d2","x":232,"y":107.8},{"s":"d2","x":244,"y":107.0},{"s":"d2","x":256,"y":108.0},{"s":"d2","x":268,"y":109.4},{"s":"d2","x":280,"y":108.6},{"s":"d2","x":292,"y":107.4},{"s":"d2","x":304,"y":106.6},{"s":"d2","x":316,"y":107.6},{"s":"d2","x":328,"y":108.8},{"s":"d2","x":340,"y":109.8},{"s":"d2","x":352,"y":108.8},{"s":"d2","x":364,"y":107.6},{"s":"d2","x":376,"y":106.6},{"s":"d2","x":388,"y":106.2},{"s":"d2","x":400,"y":107.4},{"s":"d2","x":412,"y":108.8},{"s":"d2","x":424,"y":109.8},{"s":"d2","x":436,"y":109.0},{"s":"d2","x":448,"y":107.8},{"s":"d2","x":460,"y":107.0},{"s":"d2","x":472,"y":108.0},{"s":"d2","x":484,"y":109.4},{"s":"d2","x":496,"y":110.0},{"s":"d2","x":508,"y":108.8},{"s":"d2","x":520,"y":107.6},{"s":"d2","x":532,"y":108.4},{"s":"d2","x":544,"y":109.2},{"s":"d2","x":556,"y":108.2},{"s":"d2","x":568,"y":107.0},{"s":"d2","x":580,"y":106.8},{"s":"d2","x":592,"y":107.8},{"s":"d2","x":600,"y":107.4},
{"s":"d3","x":0,"y":105.5},{"s":"d3","x":0.4,"y":112.8},{"s":"d3","x":1,"y":109.0},{"s":"d3","x":2,"y":110.2},{"s":"d3","x":4,"y":108.6},{"s":"d3","x":6,"y":110.8},{"s":"d3","x":8,"y":109.4},{"s":"d3","x":10,"y":107.4},{"s":"d3","x":13,"y":109.8},{"s":"d3","x":16,"y":111.8},{"s":"d3","x":19,"y":108.6},{"s":"d3","x":22,"y":107.0},{"s":"d3","x":25,"y":109.6},{"s":"d3","x":28,"y":111.2},{"s":"d3","x":31,"y":108.8},{"s":"d3","x":34,"y":109.6},{"s":"d3","x":37,"y":106.6},{"s":"d3","x":40,"y":109.4},{"s":"d3","x":44,"y":111.4},{"s":"d3","x":48,"y":108.6},{"s":"d3","x":52,"y":106.8},{"s":"d3","x":56,"y":109.4},{"s":"d3","x":60,"y":110.8},{"s":"d3","x":65,"y":108.4},{"s":"d3","x":70,"y":111.2},{"s":"d3","x":75,"y":109.0},{"s":"d3","x":80,"y":106.4},{"s":"d3","x":85,"y":109.2},{"s":"d3","x":90,"y":111.2},{"s":"d3","x":95,"y":108.6},
{"s":"d3","x":100,"y":109.2},{"s":"d3","x":112,"y":110.6},{"s":"d3","x":124,"y":111.2},{"s":"d3","x":136,"y":109.8},{"s":"d3","x":148,"y":108.4},{"s":"d3","x":160,"y":107.2},{"s":"d3","x":172,"y":106.8},{"s":"d3","x":184,"y":108.0},{"s":"d3","x":196,"y":109.4},{"s":"d3","x":208,"y":108.6},{"s":"d3","x":220,"y":107.6},{"s":"d3","x":232,"y":108.4},{"s":"d3","x":244,"y":107.4},{"s":"d3","x":256,"y":106.3},{"s":"d3","x":268,"y":107.2},{"s":"d3","x":280,"y":108.6},{"s":"d3","x":292,"y":109.8},{"s":"d3","x":304,"y":110.4},{"s":"d3","x":316,"y":109.2},{"s":"d3","x":328,"y":108.0},{"s":"d3","x":340,"y":107.2},{"s":"d3","x":352,"y":107.8},{"s":"d3","x":364,"y":109.0},{"s":"d3","x":376,"y":110.0},{"s":"d3","x":388,"y":109.0},{"s":"d3","x":400,"y":107.6},{"s":"d3","x":412,"y":106.6},{"s":"d3","x":424,"y":107.4},{"s":"d3","x":436,"y":108.8},{"s":"d3","x":448,"y":110.0},{"s":"d3","x":460,"y":109.4},{"s":"d3","x":472,"y":108.2},{"s":"d3","x":484,"y":107.0},{"s":"d3","x":496,"y":106.4},{"s":"d3","x":508,"y":107.6},{"s":"d3","x":520,"y":108.8},{"s":"d3","x":532,"y":109.8},{"s":"d3","x":544,"y":110.2},{"s":"d3","x":556,"y":109.0},{"s":"d3","x":568,"y":107.8},{"s":"d3","x":580,"y":108.6},{"s":"d3","x":592,"y":109.6},{"s":"d3","x":600,"y":106.0},
{"s":"d4","x":0,"y":110.0},{"s":"d4","x":1,"y":111.2},{"s":"d4","x":2,"y":108.2},{"s":"d4","x":4,"y":110.0},{"s":"d4","x":6,"y":108.4},{"s":"d4","x":8,"y":110.4},{"s":"d4","x":10,"y":108.6},{"s":"d4","x":13,"y":110.4},{"s":"d4","x":16,"y":108.2},{"s":"d4","x":19,"y":109.8},{"s":"d4","x":22,"y":110.2},{"s":"d4","x":25,"y":108.4},{"s":"d4","x":28,"y":109.0},{"s":"d4","x":31,"y":106.8},{"s":"d4","x":34,"y":110.2},{"s":"d4","x":37,"y":109.2},{"s":"d4","x":40,"y":107.2},{"s":"d4","x":44,"y":108.6},{"s":"d4","x":48,"y":110.2},{"s":"d4","x":52,"y":108.6},{"s":"d4","x":56,"y":107.2},{"s":"d4","x":60,"y":108.8},{"s":"d4","x":65,"y":110.8},{"s":"d4","x":70,"y":108.6},{"s":"d4","x":75,"y":110.2},{"s":"d4","x":80,"y":108.8},{"s":"d4","x":85,"y":107.2},{"s":"d4","x":90,"y":108.6},{"s":"d4","x":95,"y":110.0},
{"s":"d4","x":100,"y":108.2},{"s":"d4","x":112,"y":107.2},{"s":"d4","x":124,"y":106.8},{"s":"d4","x":136,"y":108.0},{"s":"d4","x":148,"y":109.4},{"s":"d4","x":160,"y":110.0},{"s":"d4","x":172,"y":109.0},{"s":"d4","x":184,"y":107.8},{"s":"d4","x":196,"y":107.0},{"s":"d4","x":208,"y":108.2},{"s":"d4","x":220,"y":109.6},{"s":"d4","x":232,"y":110.6},{"s":"d4","x":244,"y":109.6},{"s":"d4","x":256,"y":108.4},{"s":"d4","x":268,"y":109.2},{"s":"d4","x":280,"y":110.0},{"s":"d4","x":292,"y":108.8},{"s":"d4","x":304,"y":107.6},{"s":"d4","x":316,"y":106.8},{"s":"d4","x":328,"y":107.4},{"s":"d4","x":340,"y":108.6},{"s":"d4","x":352,"y":109.8},{"s":"d4","x":364,"y":109.0},{"s":"d4","x":376,"y":107.8},{"s":"d4","x":388,"y":108.4},{"s":"d4","x":400,"y":109.6},{"s":"d4","x":412,"y":110.4},{"s":"d4","x":424,"y":109.0},{"s":"d4","x":436,"y":107.8},{"s":"d4","x":448,"y":106.8},{"s":"d4","x":460,"y":107.6},{"s":"d4","x":472,"y":108.8},{"s":"d4","x":484,"y":109.8},{"s":"d4","x":496,"y":108.6},{"s":"d4","x":508,"y":107.4},{"s":"d4","x":520,"y":106.6},{"s":"d4","x":532,"y":107.8},{"s":"d4","x":544,"y":109.0},{"s":"d4","x":556,"y":110.0},{"s":"d4","x":568,"y":109.2},{"s":"d4","x":580,"y":108.0},{"s":"d4","x":592,"y":107.6},{"s":"d4","x":600,"y":108.8},
{"s":"d5","x":0,"y":107.0},{"s":"d5","x":1,"y":109.6},{"s":"d5","x":2,"y":112.4},{"s":"d5","x":4,"y":109.4},{"s":"d5","x":6,"y":107.0},{"s":"d5","x":8,"y":109.6},{"s":"d5","x":10,"y":112.0},{"s":"d5","x":13,"y":108.4},{"s":"d5","x":16,"y":109.6},{"s":"d5","x":19,"y":106.8},{"s":"d5","x":22,"y":109.0},{"s":"d5","x":25,"y":110.2},{"s":"d5","x":28,"y":108.0},{"s":"d5","x":31,"y":111.4},{"s":"d5","x":34,"y":108.6},{"s":"d5","x":37,"y":110.4},{"s":"d5","x":40,"y":111.6},{"s":"d5","x":44,"y":107.8},{"s":"d5","x":48,"y":109.6},{"s":"d5","x":52,"y":111.4},{"s":"d5","x":56,"y":108.8},{"s":"d5","x":60,"y":106.6},{"s":"d5","x":65,"y":109.2},{"s":"d5","x":70,"y":109.8},{"s":"d5","x":75,"y":107.4},{"s":"d5","x":80,"y":110.0},{"s":"d5","x":85,"y":111.6},{"s":"d5","x":90,"y":109.0},{"s":"d5","x":95,"y":107.6},
{"s":"d5","x":100,"y":106.8},{"s":"d5","x":112,"y":107.8},{"s":"d5","x":124,"y":108.8},{"s":"d5","x":136,"y":109.6},{"s":"d5","x":148,"y":108.8},{"s":"d5","x":160,"y":107.4},{"s":"d5","x":172,"y":108.2},{"s":"d5","x":184,"y":109.4},{"s":"d5","x":196,"y":110.2},{"s":"d5","x":208,"y":109.2},{"s":"d5","x":220,"y":108.0},{"s":"d5","x":232,"y":107.2},{"s":"d5","x":244,"y":107.8},{"s":"d5","x":256,"y":109.0},{"s":"d5","x":268,"y":108.2},{"s":"d5","x":280,"y":107.0},{"s":"d5","x":292,"y":106.6},{"s":"d5","x":304,"y":107.6},{"s":"d5","x":316,"y":108.8},{"s":"d5","x":328,"y":109.6},{"s":"d5","x":340,"y":108.6},{"s":"d5","x":352,"y":107.6},{"s":"d5","x":364,"y":108.4},{"s":"d5","x":376,"y":109.4},{"s":"d5","x":388,"y":110.2},{"s":"d5","x":400,"y":109.0},{"s":"d5","x":412,"y":107.6},{"s":"d5","x":424,"y":106.4},{"s":"d5","x":436,"y":107.2},{"s":"d5","x":448,"y":108.4},{"s":"d5","x":460,"y":109.2},{"s":"d5","x":472,"y":108.4},{"s":"d5","x":484,"y":107.4},{"s":"d5","x":496,"y":108.2},{"s":"d5","x":508,"y":109.2},{"s":"d5","x":520,"y":108.6},{"s":"d5","x":532,"y":107.2},{"s":"d5","x":544,"y":106.8},{"s":"d5","x":556,"y":107.8},{"s":"d5","x":568,"y":108.8},{"s":"d5","x":580,"y":107.6},{"s":"d5","x":592,"y":108.2},{"s":"d5","x":600,"y":109.2},
{"s":"d6","x":0.5,"y":112.6},{"s":"d6","x":1.5,"y":107.4},{"s":"d6","x":3,"y":112.0},{"s":"d6","x":5,"y":107.2},{"s":"d6","x":7,"y":111.6},{"s":"d6","x":9,"y":107.0},{"s":"d6","x":11.5,"y":111.8},{"s":"d6","x":14.5,"y":107.6},{"s":"d6","x":17.5,"y":111.4},{"s":"d6","x":20.5,"y":106.8},{"s":"d6","x":23.5,"y":111.0},{"s":"d6","x":26.5,"y":107.4},{"s":"d6","x":29.5,"y":111.6},{"s":"d6","x":32.5,"y":107.2},{"s":"d6","x":35.5,"y":110.8},{"s":"d6","x":38.5,"y":107.0},{"s":"d6","x":42,"y":111.2},{"s":"d6","x":46,"y":107.6},{"s":"d6","x":50,"y":111.0},{"s":"d6","x":54,"y":106.8},{"s":"d6","x":58,"y":110.6},{"s":"d6","x":62.5,"y":107.4},{"s":"d6","x":67.5,"y":111.2},{"s":"d6","x":72.5,"y":107.0},{"s":"d6","x":77.5,"y":110.8},{"s":"d6","x":82.5,"y":107.6},{"s":"d6","x":87.5,"y":111.4},{"s":"d6","x":92.5,"y":107.2},{"s":"d6","x":97.5,"y":110.4},{"s":"d6","x":104,"y":108.0},{"s":"d6","x":112,"y":109.6},{"s":"d6","x":120,"y":111.0},{"s":"d6","x":128,"y":110.0},{"s":"d6","x":136,"y":108.6},{"s":"d6","x":144,"y":107.2},{"s":"d6","x":152,"y":107.8},{"s":"d6","x":160,"y":109.2},{"s":"d6","x":168,"y":110.4},{"s":"d6","x":176,"y":109.4},{"s":"d6","x":184,"y":108.0},{"s":"d6","x":192,"y":107.0},{"s":"d6","x":200,"y":108.2},
{"s":"d7","x":0.5,"y":107.6},{"s":"d7","x":1.5,"y":112.2},{"s":"d7","x":3,"y":107.8},{"s":"d7","x":5,"y":111.4},{"s":"d7","x":7,"y":108.0},{"s":"d7","x":9,"y":111.8},{"s":"d7","x":11.5,"y":107.2},{"s":"d7","x":14.5,"y":110.8},{"s":"d7","x":17.5,"y":107.4},{"s":"d7","x":20.5,"y":111.6},{"s":"d7","x":23.5,"y":107.8},{"s":"d7","x":26.5,"y":110.6},{"s":"d7","x":29.5,"y":106.8},{"s":"d7","x":32.5,"y":111.0},{"s":"d7","x":35.5,"y":107.6},{"s":"d7","x":38.5,"y":111.4},{"s":"d7","x":42,"y":107.0},{"s":"d7","x":46,"y":110.8},{"s":"d7","x":50,"y":107.4},{"s":"d7","x":54,"y":111.2},{"s":"d7","x":58,"y":107.6},{"s":"d7","x":62.5,"y":110.6},{"s":"d7","x":67.5,"y":106.6},{"s":"d7","x":72.5,"y":110.8},{"s":"d7","x":77.5,"y":107.2},{"s":"d7","x":82.5,"y":111.0},{"s":"d7","x":87.5,"y":107.0},{"s":"d7","x":92.5,"y":110.6},{"s":"d7","x":97.5,"y":107.4},{"s":"d7","x":104,"y":109.8},{"s":"d7","x":112,"y":108.4},{"s":"d7","x":120,"y":107.2},{"s":"d7","x":128,"y":108.0},{"s":"d7","x":136,"y":109.4},{"s":"d7","x":144,"y":110.6},{"s":"d7","x":152,"y":109.6},{"s":"d7","x":160,"y":108.2},{"s":"d7","x":168,"y":107.0},{"s":"d7","x":176,"y":107.8},{"s":"d7","x":184,"y":109.0},{"s":"d7","x":192,"y":110.2},{"s":"d7","x":200,"y":109.4}
]},
"mark":{"type":"line","interpolate":"monotone","strokeWidth":3.6,"strokeDash":[0.5,3.6],"strokeCap":"round","clip":true},
"encoding":{
"x":{"field":"x","type":"quantitative","scale":{"domain":[-30,630],"nice":false,"zero":false},
"axis":{"title":"Load [nM]","values":[0,100,200,300,400,500,600],"labelFontSize":38,"titleFontSize":38,"labelFont":"DejaVu Sans","titleFont":"DejaVu Sans","titleFontWeight":"normal","tickSize":14,"tickWidth":2,"domainWidth":2,"domainColor":"black","tickColor":"black","labelColor":"black","titleColor":"black","labelPadding":14,"titlePadding":14,"grid":false,"labelFlush":false,"labelOverlap":false}},
"y":{"field":"y","type":"quantitative","scale":{"domain":[100,135],"nice":false,"zero":false},
"axis":{"title":"Modulus [GPa]","values":[100,105,110,115,120,125,130,135],"labelFontSize":38,"titleFontSize":38,"labelFont":"DejaVu Sans","titleFont":"DejaVu Sans","titleFontWeight":"normal","tickSize":14,"tickWidth":2,"domainWidth":2,"domainColor":"black","tickColor":"black","labelColor":"black","titleColor":"black","labelPadding":14,"titlePadding":19,"grid":false,"labelFlush":false,"labelOverlap":false}},
"color":{"field":"s","type":"nominal",
"scale":{"domain":["w1","w2","w3","w4","w5","w6","w7","i1","i2","i3","i4","i5","i6","i7","d1","d2","d3","d4","d5","d6","d7"],
"range":["#3A4BA6","#3A4BA6","#3A4BA6","#3A4BA6","#3A4BA6","#3A4BA6","#3A4BA6","#F2B03E","#F2B03E","#F2B03E","#F2B03E","#F2B03E","#F2B03E","#F2B03E","#DD3C36","#DD3C36","#DD3C36","#DD3C36","#DD3C36","#DD3C36","#DD3C36"]},
"legend":{"orient":"none","legendX":815,"legendY":31,"values":["w1","i1","d1"],
"labelExpr":"datum.value=='w1'?'wet: ~ 2480 ppm':datum.value=='i1'?'intermediate: ~ 1280 ppm':'dry: ~  160ppm'",
"symbolType":"stroke","symbolStrokeWidth":4,"symbolSize":1764,"symbolDash":[1,0],"symbolOpacity":1,
"labelFont":"DejaVu Sans","labelFontSize":32,"labelColor":"black","labelOffset":9,"labelLimit":0,
"padding":11,"rowPadding":0,"fillColor":"white","strokeColor":"#BBBBBB",
"title":" ","titleOrient":"bottom","titleFontSize":6,"titlePadding":3}}
}},
{"data":{"values":[{"x":430,"y":120.2}]},
"mark":{"type":"square","size":64,"color":"#4262C4","opacity":1,"filled":true},
"encoding":{"x":{"field":"x","type":"quantitative"},"y":{"field":"y","type":"quantitative"}}}
]
}
